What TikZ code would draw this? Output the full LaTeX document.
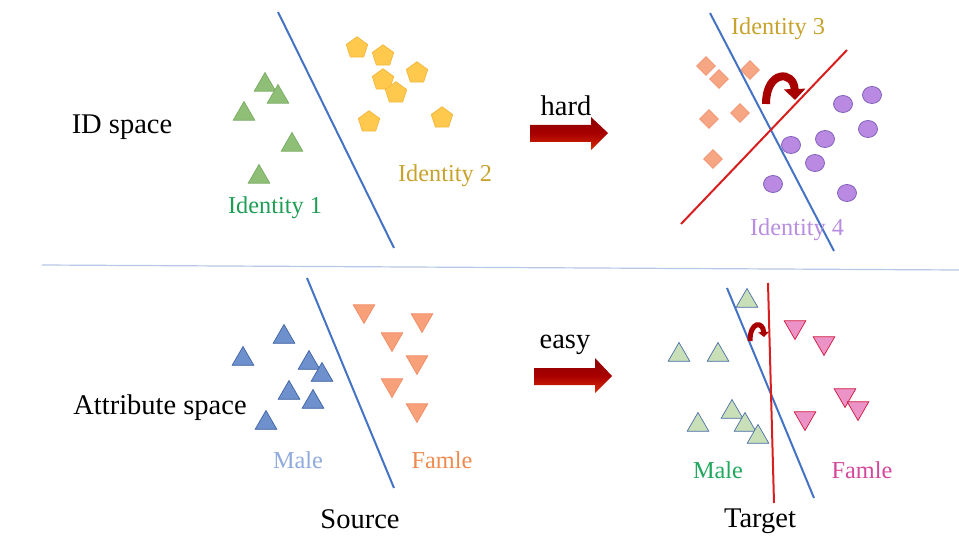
\documentclass[tikz,border=0pt]{standalone}
\usepackage{fontspec}
\setmainfont{Liberation Serif}
\usepackage{tikz}
\usetikzlibrary{arrows.meta,shapes.geometric}
\definecolor{lineblue}{HTML}{4472C4}
\definecolor{linered}{HTML}{D81E1E}
\definecolor{sepblue}{HTML}{B4C7E7}
\definecolor{arrowred}{HTML}{A80000}
\definecolor{idgreen}{HTML}{1E9E55}
\definecolor{idgold}{HTML}{C8A22C}
\definecolor{idpurple}{HTML}{B98DE0}
\definecolor{malblue}{HTML}{8FAADC}
\definecolor{femorange}{HTML}{EE8A4E}
\definecolor{malgreen}{HTML}{20A85C}
\definecolor{fempink}{HTML}{D4489C}
\definecolor{gfill}{HTML}{8FBF76}
\definecolor{gdraw}{HTML}{78AA62}
\definecolor{bfill}{HTML}{6E90CC}
\definecolor{bdraw}{HTML}{3E62A6}
\definecolor{lfill}{HTML}{C8DFB8}
\definecolor{ldraw}{HTML}{4A6EA8}
\definecolor{ofill}{HTML}{F7A07A}
\definecolor{odraw}{HTML}{F28C64}
\definecolor{pfill}{HTML}{EB92C6}
\definecolor{pdraw}{HTML}{D0143C}
\definecolor{yfill}{HTML}{FFC94E}
\definecolor{ydraw}{HTML}{F3B63C}
\definecolor{dfill}{HTML}{F6A682}
\definecolor{ddraw}{HTML}{F29470}
\definecolor{cfill}{HTML}{BA8AE2}
\definecolor{cdraw}{HTML}{8060BC}

\begin{document}
\begin{tikzpicture}[x=1pt, y=-1pt,
  lbl/.style={font=\fontsize{28.5}{32}\selectfont},
  clbl/.style={font=\fontsize{24.3}{28}\selectfont},
  tri/.style={regular polygon, regular polygon sides=3, minimum size=25pt, inner sep=0pt, line width=0.7pt},
  dtri/.style={tri, shape border rotate=180},
  gtri/.style={tri, fill=gfill, draw=gdraw},
  btri/.style={tri, fill=bfill, draw=bdraw},
  ltri/.style={tri, fill=lfill, draw=ldraw},
  odtri/.style={dtri, fill=ofill, draw=odraw},
  pdtri/.style={dtri, fill=pfill, draw=pdraw},
  ypent/.style={regular polygon, regular polygon sides=5, minimum size=22.5pt, inner sep=0pt, fill=yfill, draw=ydraw, line width=0.7pt},
  odia/.style={diamond, aspect=1, minimum size=19pt, inner sep=0pt, fill=dfill, draw=ddraw, line width=0.7pt},
  pdot/.style={ellipse, minimum width=19pt, minimum height=17pt, inner sep=0pt, fill=cfill, draw=cdraw, line width=0.8pt},
  bound/.style={line width=2pt},
  fat/.style={top color=red!55!black, bottom color=red!60!orange!85!black, middle color=arrowred},
  flip/.style={draw=arrowred, -{Triangle[length=11pt, width=21pt]}}]
\useasboundingbox (0,0) rectangle (959,548);

\node[lbl] (idspace) at (122,127) {ID space};
\node[lbl] (attrspace) at (160,408) {Attribute space};
\draw[sepblue, line width=1.2pt] (42,265) -- (959,270);

\draw[bound, lineblue] (278,12) -- (394,248);
\foreach \x/\y [count=\i] in {265/85, 278/97, 244/114, 292/145, 259/177}
  \node[gtri] (g\i) at (\x,\y) {};
\foreach \x/\y [count=\i] in {357/48, 383/56, 417/73, 383/80, 396/93, 369/122, 442/118}
  \node[ypent] (y\i) at (\x,\y) {};
\node[clbl, text=idgreen] (id1) at (275,208) {Identity 1};
\node[clbl, text=idgold] (id2) at (445,176) {Identity 2};

\shade[fat] (530,125) -- (591,125) -- (591,117) -- (608,133) -- (591,150) -- (591,142) -- (530,142) -- cycle;
\node[lbl] (hard) at (566,106) {hard};

\foreach \x/\y [count=\i] in {706/66, 719/79, 750/70, 709/119, 740/113, 713/159}
  \node[odia] (d\i) at (\x,\y) {};
\foreach \x/\y [count=\i] in {872/95, 843/104, 868/129, 825/139, 791/145, 815/163, 773/184, 847/193}
  \node[pdot] (c\i) at (\x,\y) {};
\draw[bound, lineblue] (710,13) -- (834,251);
\draw[bound, linered] (681,224) -- (847,50);
\draw[flip, line width=8pt] (766,104) .. controls (766,70) and (794,70) .. (795,100);
\node[clbl, text=idgold] (id3) at (778,29) {Identity 3};
\node[clbl, text=idpurple] (id4) at (797,230) {Identity 4};

\draw[bound, lineblue] (307,278) -- (394,488);
\foreach \x/\y [count=\i] in {284/337, 243/359, 309/363, 322/375, 289/393, 313/402, 266/423}
  \node[btri] (b\i) at (\x,\y) {};
\foreach \x/\y [count=\i] in {364/311, 422/320, 392/339, 417/362, 392/385, 417/410}
  \node[odtri] (o\i) at (\x,\y) {};
\node[clbl, text=malblue] (male1) at (298,460) {Male};
\node[clbl, text=femorange] (fem1) at (442,460) {Famle};
\node[lbl] (source) at (360,519) {Source};

\shade[fat] (534,368) -- (595,368) -- (595,358) -- (612,376) -- (595,393) -- (595,385) -- (534,385) -- cycle;
\node[lbl] (easy) at (565,345) {easy};

\foreach \x/\y [count=\i] in {747/301, 679/355, 718/355, 698/425, 732/412, 745/425, 758/437}
  \node[ltri] (l\i) at (\x,\y) {};
\foreach \x/\y [count=\i] in {795/327, 824/343, 845/395, 858/408, 805/418}
  \node[pdtri] (p\i) at (\x,\y) {};
\draw[bound, lineblue] (727,288) -- (814,498);
\draw[bound, linered] (768,283) -- (774,503);
\draw[flip, line width=5pt, -{Triangle[length=5pt, width=11pt]}] (750,341) .. controls (750,321) and (763,321) .. (764,337);
\node[clbl, text=malgreen] (male2) at (718,470) {Male};
\node[clbl, text=fempink] (fem2) at (862,470) {Famle};
\node[lbl] (target) at (760,521) {Target};
\end{tikzpicture}
\end{document}
